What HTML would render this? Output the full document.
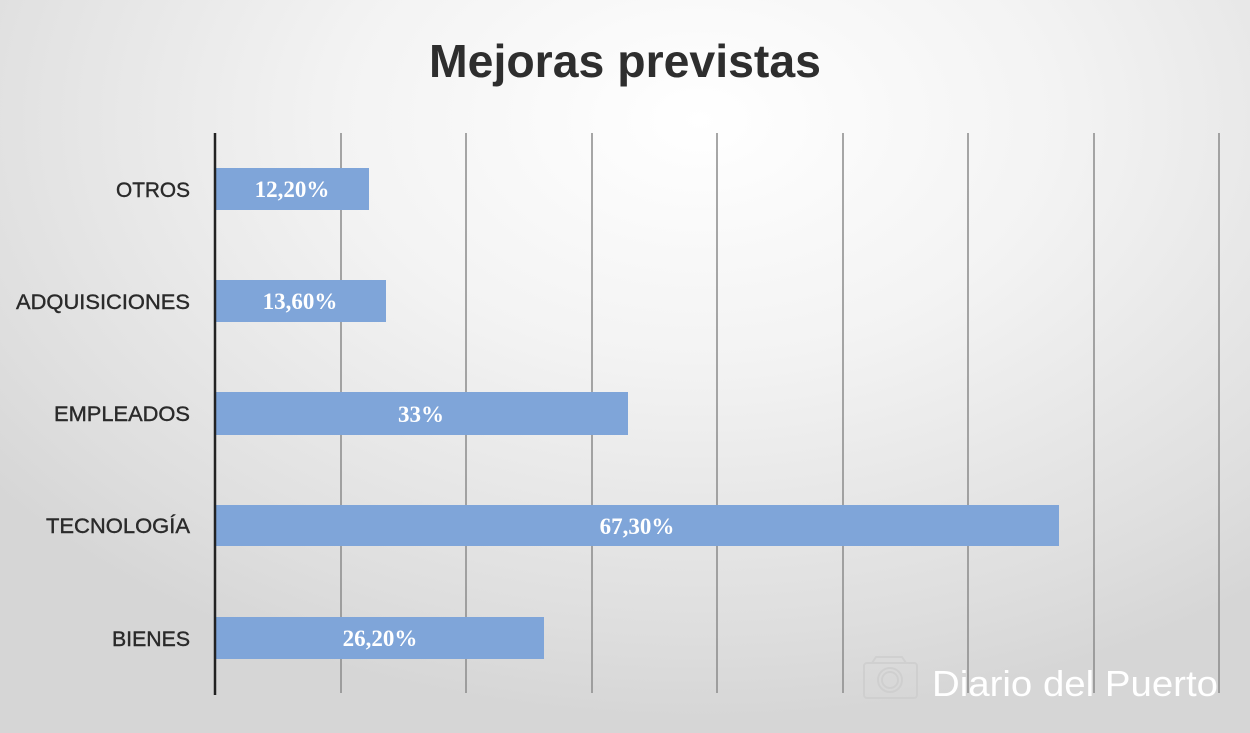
<!DOCTYPE html>
<html><head><style>
html,body{margin:0;padding:0}
body{width:1250px;height:733px;overflow:hidden;background:radial-gradient(ellipse 900px 600px at 700px 120px,#ffffff 0%,#f3f3f3 40%,#dedede 85%,#d6d6d6 100%);}
</style></head><body>
<svg width="1250" height="733" xmlns="http://www.w3.org/2000/svg" style="position:absolute;left:0;top:0">
<text x="625" y="77" text-anchor="middle" font-family="Liberation Sans, sans-serif" font-weight="bold" font-size="46" fill="#2e2e2e" textLength="392" lengthAdjust="spacingAndGlyphs">Mejoras previstas</text>
<g stroke="#8a8a8a" stroke-width="1.5">
<line x1="341" y1="133" x2="341" y2="693"/><line x1="466" y1="133" x2="466" y2="693"/>
<line x1="592" y1="133" x2="592" y2="693"/><line x1="717" y1="133" x2="717" y2="693"/>
<line x1="843" y1="133" x2="843" y2="693"/><line x1="968" y1="133" x2="968" y2="693"/>
<line x1="1094" y1="133" x2="1094" y2="693"/><line x1="1219" y1="133" x2="1219" y2="693"/>
</g>
<g fill="#7fa5d9">
<rect x="216" y="168" width="153" height="42"/>
<rect x="216" y="280" width="170" height="42"/>
<rect x="216" y="392" width="412" height="43"/>
<rect x="216" y="505" width="843" height="41"/>
<rect x="216" y="617" width="328" height="42"/>
</g>
<line x1="215" y1="133" x2="215" y2="695" stroke="#222" stroke-width="2.5"/>
<g font-family="Liberation Serif, serif" font-weight="bold" font-size="23" fill="#fff" text-anchor="middle">
<text x="292" y="197">12,20%</text>
<text x="300" y="309">13,60%</text>
<text x="421" y="422">33%</text>
<text x="637" y="534">67,30%</text>
<text x="380" y="646">26,20%</text>
</g>
<g font-family="Liberation Sans, sans-serif" font-size="21" fill="#2a2a2a" text-anchor="end" stroke="#2a2a2a" stroke-width="0.4">
<text x="190" y="197" textLength="74" lengthAdjust="spacingAndGlyphs">OTROS</text>
<text x="190" y="309" textLength="174" lengthAdjust="spacingAndGlyphs">ADQUISICIONES</text>
<text x="190" y="421" textLength="136" lengthAdjust="spacingAndGlyphs">EMPLEADOS</text>
<text x="190" y="533" textLength="144" lengthAdjust="spacingAndGlyphs">TECNOLOGÍA</text>
<text x="190" y="646" textLength="78" lengthAdjust="spacingAndGlyphs">BIENES</text>
</g>
<g fill="none" stroke="#cfcfcf" stroke-width="2" opacity="0.9">
<rect x="864" y="663" width="53" height="35" rx="3"/>
<circle cx="890" cy="680" r="12"/><circle cx="890" cy="680" r="8"/>
<path d="M872 663 l4 -6 h26 l4 6"/>
</g>
<text x="932" y="696" font-family="Liberation Sans, sans-serif" font-size="36" fill="#fff" textLength="286" lengthAdjust="spacingAndGlyphs">Diario del Puerto</text>
</svg>
</body></html>
